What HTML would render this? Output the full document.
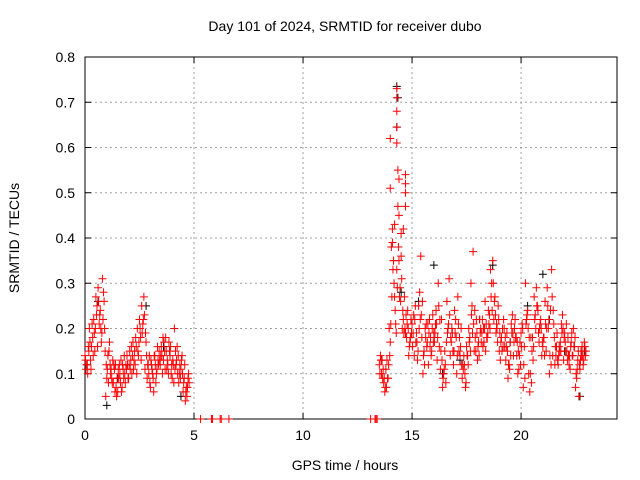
<!DOCTYPE html>
<html><head><meta charset="utf-8"><style>
body{margin:0;background:#fff}
svg{display:block;font-family:"Liberation Sans",sans-serif}
</style></head><body>
<svg id="chart" width="640" height="480" viewBox="0 0 640 480">
<rect width="640" height="480" fill="#fff"/>
<g id="grid"></g>
<g id="axes"></g>
<g id="black"></g>
<g id="red"></g>
<text x="345" y="31" text-anchor="middle" font-size="14">Day 101 of 2024, SRMTID for receiver dubo</text>
<text x="345" y="470" text-anchor="middle" font-size="14">GPS time / hours</text>
<text transform="translate(19,238) rotate(-90)" text-anchor="middle" font-size="14">SRMTID / TECUs</text>
</svg>
<script>
const xTicks=[0,5,10,15,20];
const yTicks=[0,0.1,0.2,0.3,0.4,0.5,0.6,0.7,0.8];
const yTickLabels=["0","0.1","0.2","0.3","0.4","0.5","0.6","0.7","0.8"];
const seg1a=[0.14,0.12,0.20,0.16,0.22,0.27,0.29,0.24,0.31,0.20,0.09,0.15,0.11,0.08,0.12,0.06,0.10,0.07,0.14,0.11,0.09,0.13,0.17,0.12,0.20,0.22,0.25,0.27,0.17,0.12,0.07,0.10,0.14,0.11,0.15,0.16,0.13,0.18,0.12,0.14,0.09,0.20,0.13,0.08,0.11,0.06,0.04,0.07];
const seg1b=[0.11,0.16,0.13,0.18,0.15,0.25,0.21,0.17,0.28,0.05,0.14,0.12,0.08,0.11,0.05,0.09,0.13,0.11,0.08,0.12,0.15,0.10,0.13,0.16,0.14,0.18,0.21,0.11,0.09,0.14,0.12,0.06,0.08,0.13,0.12,0.10,0.15,0.11,0.17,0.10,0.12,0.15,0.10,0.12,0.14,0.09,0.07,0.10];
const seg1c=[0.13,0.10,0.17,0.21,0.19,0.23,0.26,0.20,0.22,0.15,0.11,0.17,0.09,0.12,0.07,0.11,0.08,0.12,0.10,0.14,0.12,0.16,0.11,0.18,0.15,0.20,0.19,0.23,0.14,0.10,0.13,0.09,0.12,0.16,0.13,0.14,0.17,0.15,0.10,0.16,0.13,0.11,0.16,0.10,0.13,0.08,0.06,0.09];
const seg1d=[0.12,0.15,0.11,0.14,0.20,0.16,0.23,0.19,0.26,0.12,0.08,0.10,0.13,0.06,0.09,0.12,0.06,0.09,0.12,0.09,0.11,0.14,0.15,0.10,0.17,0.13,0.22,0.19,0.12,0.08,0.11,0.14,0.10,0.12,0.14,0.18,0.11,0.13,0.15,0.12,0.08,0.12,0.14,0.09,0.10,0.12,0.05,0.08];
const seg2a=[0.12,0.10,0.08,0.11,0.09,0.17,0.42,0.27,0.33,0.35,0.41,0.22,0.19,0.24,0.17,0.21,0.14,0.19,0.25,0.36,0.10,0.20,0.17,0.22,0.15,0.19,0.24,0.30,0.11,0.07,0.15,0.26,0.31,0.17,0.12,0.22,0.27,0.14,0.09,0.12,0.16,0.20,0.30,0.37,0.18,0.13,0.22,0.19,0.17,0.21,0.24,0.33,0.35,0.27,0.20,0.15,0.18,0.22,0.13,0.09,0.17,0.23,0.20,0.14,0.11,0.19,0.07,0.30,0.24,0.06,0.15,0.27,0.29,0.19,0.22,0.16,0.26,0.29,0.10,0.33,0.21,0.14,0.12,0.17,0.23,0.19,0.15,0.12,0.17,0.20,0.07,0.13,0.11,0.16,0.17];
const seg2b=[0.14,0.09,0.06,0.13,0.20,0.38,0.35,0.21,0.47,0.29,0.20,0.27,0.18,0.14,0.22,0.19,0.25,0.13,0.28,0.18,0.15,0.21,0.12,0.18,0.23,0.19,0.13,0.16,0.22,0.10,0.08,0.20,0.14,0.19,0.24,0.10,0.15,0.20,0.11,0.07,0.14,0.18,0.25,0.15,0.22,0.17,0.20,0.16,0.26,0.18,0.23,0.30,0.22,0.19,0.25,0.13,0.20,0.16,0.19,0.12,0.21,0.14,0.18,0.10,0.17,0.21,0.16,0.22,0.10,0.18,0.13,0.23,0.25,0.20,0.14,0.18,0.15,0.20,0.24,0.14,0.12,0.19,0.16,0.21,0.13,0.15,0.18,0.11,0.14,0.16,0.09,0.05,0.15,0.12,0.14];
const seg2c=[0.10,0.13,0.09,0.07,0.12,0.21,0.33,0.24,0.29,0.27,0.31,0.19,0.23,0.20,0.18,0.16,0.22,0.17,0.20,0.23,0.14,0.18,0.21,0.16,0.20,0.17,0.21,0.25,0.15,0.09,0.12,0.19,0.23,0.20,0.15,0.18,0.21,0.16,0.12,0.10,0.14,0.17,0.23,0.21,0.15,0.16,0.19,0.22,0.20,0.18,0.21,0.27,0.30,0.23,0.17,0.19,0.15,0.20,0.16,0.12,0.14,0.19,0.22,0.17,0.14,0.16,0.12,0.21,0.20,0.10,0.18,0.22,0.25,0.17,0.20,0.18,0.21,0.25,0.14,0.27,0.18,0.16,0.14,0.15,0.20,0.17,0.13,0.14,0.19,0.16,0.10,0.15,0.13,0.14,0.16];
const seg2d=[0.13,0.11,0.07,0.09,0.14,0.27,0.30,0.19,0.38,0.26,0.24,0.20,0.21,0.16,0.19,0.23,0.17,0.15,0.22,0.26,0.12,0.16,0.19,0.14,0.17,0.21,0.18,0.22,0.13,0.11,0.17,0.21,0.18,0.15,0.19,0.14,0.18,0.12,0.14,0.08,0.12,0.15,0.19,0.24,0.19,0.14,0.17,0.20,0.15,0.19,0.20,0.24,0.26,0.21,0.22,0.17,0.16,0.18,0.15,0.11,0.19,0.17,0.18,0.15,0.12,0.20,0.09,0.23,0.18,0.08,0.16,0.20,0.24,0.21,0.17,0.14,0.20,0.22,0.12,0.24,0.16,0.13,0.15,0.19,0.18,0.21,0.14,0.16,0.14,0.18,0.11,0.12,0.14,0.13,0.15];
const spikeX=[14.0,14.0,14.3,14.3,14.3,14.3,14.3,14.35,14.4,14.7,14.7,14.7,14.7,14.6,14.4,14.2,14.1,14.15,14.5];
const spikeY=[0.62,0.51,0.73,0.71,0.68,0.645,0.61,0.55,0.53,0.54,0.52,0.50,0.47,0.42,0.45,0.43,0.39,0.35,0.36];
const zeroX=[5.3,5.8,5.85,6.2,6.25,6.6,13.1,13.3,13.35,13.4];
const blackX=[0.1,0.6,1.0,1.5,2.8,3.6,4.4,13.6,14.3,14.3,14.35,14.5,15.3,16.0,16.4,17.2,18.1,18.7,19.5,20.3,21.0,21.3,22.0,22.7,22.9];
const blackY=[0.12,0.26,0.03,0.09,0.25,0.16,0.05,0.13,0.735,0.645,0.71,0.28,0.26,0.34,0.10,0.13,0.22,0.34,0.17,0.25,0.32,0.22,0.15,0.05,0.15];
const L=85,R=617,T=57,B=419,XMAX=24.4,YMAX=0.8;
const sx=v=>L+v/XMAX*(R-L), sy=v=>B-v/YMAX*(B-T);
const NS="http://www.w3.org/2000/svg";
function mk(tag,at,parent){const e=document.createElementNS(NS,tag);for(const k in at)e.setAttribute(k,at[k]);parent.appendChild(e);return e;}
const grid=document.getElementById('grid'),axes=document.getElementById('axes');
yTicks.forEach((v,i)=>{const y=sy(v);
 if(i>0&&i<yTicks.length-1){const g=mk('line',{x1:L,x2:R,y1:y,y2:y,stroke:'#a0a0a0','stroke-dasharray':'2,3'},grid);
 
 }
 mk('line',{x1:L,x2:L+6,y1:y,y2:y,stroke:'#000'},axes);mk('line',{x1:R-6,x2:R,y1:y,y2:y,stroke:'#000'},axes);
 const t=mk('text',{x:L-10,y:y+5,'text-anchor':'end','font-size':'14'},axes);t.textContent=yTickLabels[i];
 
 });
xTicks.forEach(v=>{const x=sx(v);
 if(v>0){const g=mk('line',{x1:x,x2:x,y1:T,y2:B,stroke:'#a0a0a0','stroke-dasharray':'2,3'},grid);
 
 }
 mk('line',{x1:x,x2:x,y1:B,y2:B-6,stroke:'#000'},axes);mk('line',{x1:x,x2:x,y1:T,y2:T+6,stroke:'#000'},axes);
 const t=mk('text',{x:x,y:B+21,'text-anchor':'middle','font-size':'14'},axes);t.textContent=String(v);
 
 });
const box=mk('rect',{x:L,y:T,width:R-L,height:B-T,fill:'none',stroke:'#000'},axes);


function plus(g,x,y,c){const X=sx(x),Y=sy(y);
 const p=mk('path',{d:`M${X-4},${Y}h8M${X},${Y-4}v8`,stroke:c,'stroke-width':1,fill:'none'},g);
 
 }
const gb=document.getElementById('black'),gr=document.getElementById('red');
blackX.forEach((x,i)=>plus(gb,x,blackY[i],'#000'));
seg1a.forEach((v,i)=>plus(gr,i*0.1,v,'#f00'));
seg1b.forEach((v,i)=>plus(gr,0.05+i*0.1,v,'#f00'));
seg1c.forEach((v,i)=>plus(gr,0.025+i*0.1,v,'#f00'));
seg1d.forEach((v,i)=>plus(gr,0.075+i*0.1,v,'#f00'));
seg2a.forEach((v,i)=>plus(gr,13.5+i*0.1,v,'#f00'));
seg2b.forEach((v,i)=>plus(gr,13.55+i*0.1,v,'#f00'));
seg2c.forEach((v,i)=>plus(gr,13.525+i*0.1,v,'#f00'));
seg2d.forEach((v,i)=>plus(gr,13.575+i*0.1,v,'#f00'));
spikeX.forEach((x,i)=>plus(gr,x,spikeY[i],'#f00'));
zeroX.forEach(x=>plus(gr,x,0,'#f00'));
</script>
</body></html>
